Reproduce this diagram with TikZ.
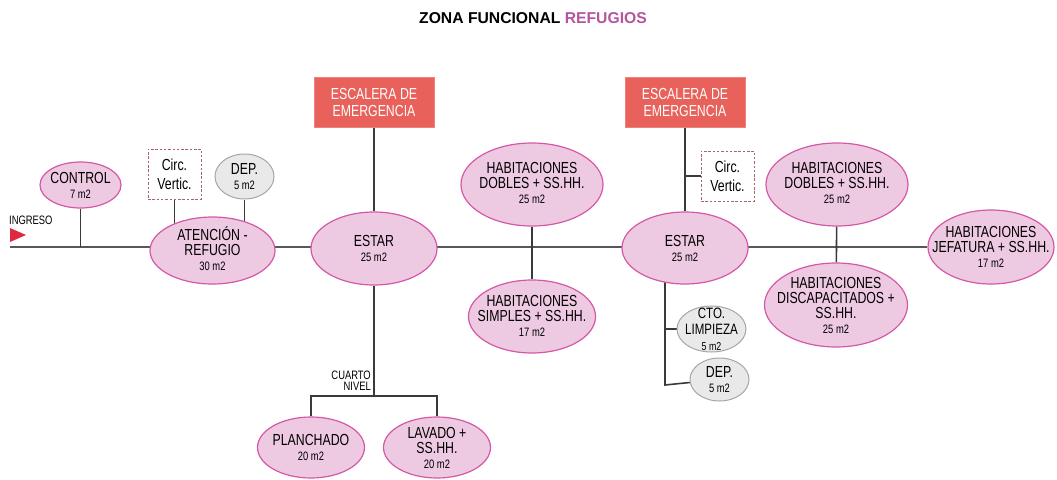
\documentclass[tikz,border=0pt]{standalone}
\usepackage{fontspec}
\setmainfont{Liberation Sans}[FakeStretch=0.77]
\newfontfamily\titlefont{Liberation Sans}
\usetikzlibrary{shapes.geometric,backgrounds}
\definecolor{pinkfill}{HTML}{EECAE2}
\definecolor{pinkline}{HTML}{D458A6}
\definecolor{grayfill}{HTML}{E9E9E9}
\definecolor{grayline}{HTML}{A6A6A6}
\definecolor{escfill}{HTML}{E8615A}
\definecolor{dashline}{HTML}{A86468}
\definecolor{titlepink}{HTML}{B5559E}
\definecolor{ingred}{HTML}{E0283F}
\definecolor{conncol}{HTML}{3A3A3A}
\newcommand\lblfont{\fontsize{16}{15}\selectfont}
\newcommand\smfont{\fontsize{12.2}{15}\selectfont}
\begin{document}
\begin{tikzpicture}[x=1pt,y=-1pt,
  pel/.style={ellipse, draw=pinkline, fill=pinkfill, line width=1.2pt, inner sep=0pt},
  gel/.style={ellipse, draw=grayline, fill=grayfill, line width=1pt, inner sep=0pt},
  lab/.style={align=center, font=\lblfont, inner sep=0pt, text=black},
  escbox/.style={rectangle, fill=escfill, draw=escfill!80!white, line width=0.6pt, minimum width=120pt, minimum height=50pt, align=center, text=white, font=\fontsize{16}{17}\selectfont, inner sep=0pt},
  circbox/.style={rectangle, draw=dashline, dashed, dash pattern=on 2.5pt off 1.8pt, line width=0.9pt, fill=white, minimum width=53pt, minimum height=50pt, align=center, font=\fontsize{16}{19}\selectfont, inner sep=0pt},
  conn/.style={draw=conncol, line width=1.6pt},
  small/.style={align=right, font=\fontsize{12.2}{11}\selectfont, inner sep=0pt}
]
\useasboundingbox (0,0) rectangle (1057,479);

% title
\node[font=\titlefont\bfseries\fontsize{15.7}{15}\selectfont, inner sep=0pt] (title) at (533,18) {ZONA FUNCIONAL \textcolor{titlepink}{REFUGIOS}};

% ingreso
\coordinate (ing) at (10,247);
\fill[ingred] (10,228) -- (26,235) -- (10,242) -- cycle;
\node[anchor=south west, font=\fontsize{12.2}{11}\selectfont, inner sep=0pt] (ingt) at (9,225) {INGRESO};

% nodes
\node[pel, minimum width=81pt, minimum height=46pt] (control) at (80.5,185) {};
\node[lab] (controlt) at (control) {CONTROL\\\smfont 7 m2};

\node[circbox] (circ1) at (174.5,174) {Circ.\\Vertic.};
\node[gel, minimum width=59pt, minimum height=45pt] (dep1) at (244.5,176.5) {};
\node[lab] (dep1t) at (dep1) {DEP.\\\smfont 5 m2};

\node[pel, minimum width=125pt, minimum height=67pt] (aten) at (212.5,250.5) {};
\node[lab] (atent) at ([yshift=2]aten) {ATENCIÓN -\\REFUGIO\\\smfont 30 m2};

\node[escbox] (esc1) at (374,102) {ESCALERA DE\\EMERGENCIA};
\node[pel, minimum width=126pt, minimum height=73pt] (estar1) at (374,248.5) {};
\node[lab] (estar1t) at (estar1) {ESTAR\\\smfont 25 m2};

\node[pel, minimum width=107pt, minimum height=61pt] (plan) at (311,447.5) {};
\node[lab] (plant) at (plan) {PLANCHADO\\\smfont 20 m2};
\node[pel, minimum width=107pt, minimum height=61pt] (lav) at (437,447.5) {};
\node[lab] (lavt) at (lav) {LAVADO +\\SS.HH.\\\smfont 20 m2};
\node[small, anchor=south east] (cuarto) at (371,391) {CUARTO\\NIVEL};
\coordinate (j1) at (374,396);

\node[pel, minimum width=142pt, minimum height=83pt] (hd1) at (532,184.5) {};
\node[lab] (hd1t) at ([yshift=2]hd1) {HABITACIONES\\DOBLES + SS.HH.\\\smfont 25 m2};
\node[pel, minimum width=127pt, minimum height=73pt] (hs1) at (532,316.5) {};
\node[lab] (hs1t) at ([yshift=1]hs1) {HABITACIONES\\SIMPLES + SS.HH.\\\smfont 17 m2};

\node[escbox] (esc2) at (685,102) {ESCALERA DE\\EMERGENCIA};
\node[circbox] (circ2) at (727.5,176) {Circ.\\Vertic.};
\node[pel, minimum width=126pt, minimum height=72pt] (estar2) at (685,248) {};
\node[lab] (estar2t) at (estar2) {ESTAR\\\smfont 25 m2};
\coordinate (b2) at (665,385);
\node[gel, minimum width=69pt, minimum height=46pt] (cto) at (711.5,329) {};
\node[lab, font=\fontsize{15}{16}\selectfont] (ctot) at (cto) {CTO.\\LIMPIEZA\\\fontsize{11.5}{15}\selectfont 5 m2};
\node[gel, minimum width=59pt, minimum height=43pt] (dep2) at (719.5,379.5) {};
\node[lab] (dep2t) at (dep2) {DEP.\\\smfont 5 m2};

\node[pel, minimum width=142pt, minimum height=83pt] (hd2) at (837,184.5) {};
\node[lab] (hd2t) at ([yshift=2]hd2) {HABITACIONES\\DOBLES + SS.HH.\\\smfont 25 m2};
\node[pel, minimum width=143pt, minimum height=84pt] (hdis) at (836,305) {};
\node[lab] (hdist) at (hdis) {HABITACIONES\\DISCAPACITADOS +\\SS.HH.\\\smfont 25 m2};

\node[pel, minimum width=126pt, minimum height=74pt] (jef) at (991,247) {};
\node[lab] (jeft) at (jef) {HABITACIONES\\JEFATURA + SS.HH.\\\smfont 17 m2};

% connectors
\begin{pgfonlayer}{background}
\draw[conn, draw=conncol!85!white] (ing) -- (jef);
\draw[conn] (control) -- (control |- ing);
\draw[conn] (circ1) -- (circ1 |- aten);
\draw[conn] (dep1) -- (dep1 |- aten);
\draw[conn] (esc1) -- (estar1);
\draw[conn] (estar1) -- (j1);
\draw[conn] (plan) -- (plan |- j1) -- (lav |- j1) -- (lav);
\draw[conn] (hd1) -- (hs1);
\draw[conn] (esc2) -- (estar2);
\draw[conn] (esc2 |- circ2) -- (circ2);
\draw[conn] (b2 |- estar2) -- (b2) -- (dep2);
\draw[conn] (b2 |- cto) -- (cto);
\draw[conn] (hd2) -- (hdis);
\end{pgfonlayer}
\end{tikzpicture}
\end{document}
